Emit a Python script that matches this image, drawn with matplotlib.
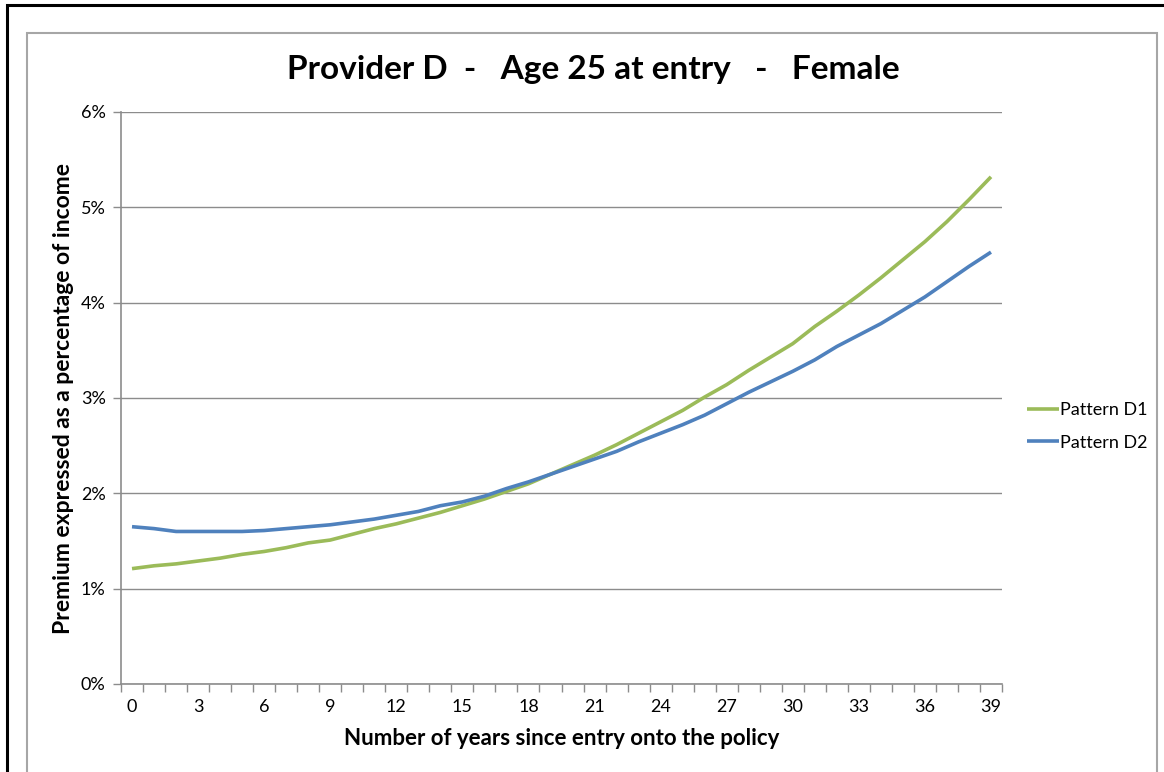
import matplotlib.pyplot as plt
from matplotlib.patches import Rectangle
from matplotlib.ticker import FixedLocator, PercentFormatter

# Years since entry and premium as % of income
years = list(range(40))
pattern_d1 = [1.21, 1.24, 1.26, 1.29, 1.32, 1.36, 1.39, 1.43, 1.48, 1.51,
              1.57, 1.63, 1.68, 1.74, 1.80, 1.87, 1.94, 2.02, 2.10, 2.20,
              2.30, 2.40, 2.51, 2.63, 2.75, 2.87, 3.01, 3.14, 3.29, 3.43,
              3.57, 3.75, 3.91, 4.08, 4.26, 4.45, 4.64, 4.85, 5.08, 5.32]
pattern_d2 = [1.65, 1.63, 1.60, 1.60, 1.60, 1.60, 1.61, 1.63, 1.65, 1.67,
              1.70, 1.73, 1.77, 1.81, 1.87, 1.91, 1.97, 2.05, 2.12, 2.20,
              2.28, 2.36, 2.44, 2.54, 2.63, 2.72, 2.82, 2.94, 3.06, 3.17,
              3.28, 3.40, 3.54, 3.66, 3.78, 3.92, 4.06, 4.22, 4.38, 4.53]
series_names = ['Pattern D1', 'Pattern D2']
series_colors = ['#9BBB59', '#4F81BD']

FONT = 'Lato'
GRID = '#8C8C8C'

W, H = 1164, 772
fig = plt.figure(figsize=(W / 100, H / 100), dpi=100)
plt.rcParams['font.family'] = [FONT, 'DejaVu Sans']

# outer frame and chart area border (bottom/right run off the page)
fig.add_artist(Rectangle((7 / W, -0.1), 1.2, 1.1 - 5 / H, transform=fig.transFigure,
                         fill=False, edgecolor='black', lw=2.2))
fig.add_artist(Rectangle((27 / W, -0.1), (1157 - 27) / W, 1.1 - 33 / H,
                         transform=fig.transFigure, fill=False,
                         edgecolor='#A6A6A6', lw=1.5))

ax = fig.add_axes([121 / W, 1 - 684 / H, (1002 - 121) / W, (684 - 112) / H])

for vals, name, col in zip([pattern_d1, pattern_d2], series_names, series_colors):
    ax.plot(years, vals, color=col, lw=2.6, label=name, solid_capstyle='butt')

ax.set_xlim(-0.5, 39.5)
ax.set_ylim(0, 6)

# category axis: labels every 3 years, tick marks between categories
ax.xaxis.set_major_locator(FixedLocator(range(0, 40, 3)))
ax.xaxis.set_minor_locator(FixedLocator([i - 0.5 for i in range(41)]))
ax.tick_params(axis='x', which='major', length=0, pad=11, labelsize=13)
ax.tick_params(axis='x', which='minor', length=6, width=1, color=GRID, direction='out')

ax.yaxis.set_major_locator(FixedLocator(range(0, 7)))
ax.yaxis.set_major_formatter(PercentFormatter(decimals=0))
ax.tick_params(axis='y', length=6, width=1, color=GRID, pad=5, labelsize=13)

ax.grid(axis='y', color=GRID, lw=1)
ax.set_axisbelow(True)
for side in ['top', 'right']:
    ax.spines[side].set_visible(False)
for side in ['left', 'bottom']:
    ax.spines[side].set_color(GRID)
    ax.spines[side].set_linewidth(1.2)

ax.set_xlabel('Number of years since entry onto the policy', fontsize=16,
              fontweight='bold', labelpad=9)
ax.set_ylabel('Premium expressed as a percentage of income', fontsize=16.5,
              fontweight='bold', labelpad=5)

fig.text(593 / W, 1 - 70 / H, 'Provider D  -   Age 25 at entry   -   Female',
         ha='center', va='center', fontsize=24, fontweight='bold')

ax.legend(loc='center left', bbox_to_anchor=(1.01, 0.45), frameon=False,
          fontsize=13, handlelength=1.75, handletextpad=0.05, labelspacing=0.9)

fig.savefig('out.png', dpi=100)
